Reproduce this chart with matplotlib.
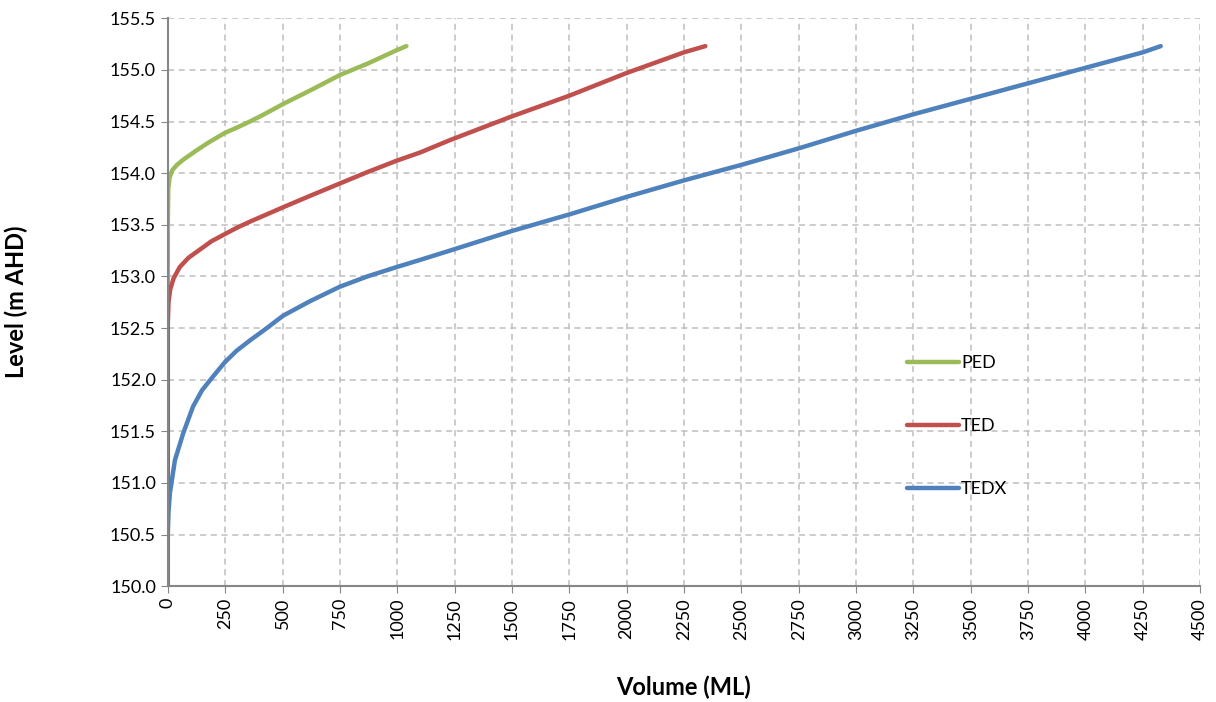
import matplotlib
matplotlib.use("Agg")
import matplotlib.pyplot as plt
from matplotlib.ticker import MultipleLocator, FormatStrFormatter

# Curvas nivel-volumen
ped_vol = [0, 0, 2, 8, 20, 40, 67, 125, 180, 249, 300, 358, 420, 503, 620, 750, 870, 997, 1040]
ped_lvl = [152.87, 153.5, 153.85, 153.96, 154.03, 154.08, 154.13, 154.22, 154.3, 154.39, 154.44,
           154.5, 154.57, 154.67, 154.8, 154.95, 155.06, 155.19, 155.23]

ted_vol = [0, 0, 3, 10, 25, 52, 90, 140, 190, 249, 300, 358, 420, 503, 620, 750, 870, 997, 1100,
           1230, 1500, 1750, 2000, 2250, 2343]
ted_lvl = [151.0, 152.55, 152.75, 152.87, 152.98, 153.09, 153.18, 153.26, 153.34, 153.41, 153.47,
           153.53, 153.59, 153.67, 153.78, 153.9, 154.01, 154.12, 154.2, 154.32, 154.55, 154.75,
           154.97, 155.17, 155.23]

tedx_vol = [0, 0, 3, 9, 31, 67, 110, 150, 197, 249, 300, 358, 420, 503, 620, 750, 870, 997, 1100,
            1230, 1500, 1750, 2000, 2250, 2500, 2750, 3000, 3250, 3500, 3750, 4000, 4250, 4328]
tedx_lvl = [150.0, 150.5, 150.72, 150.9, 151.22, 151.48, 151.74, 151.9, 152.03, 152.17, 152.28,
            152.38, 152.48, 152.62, 152.76, 152.9, 153.0, 153.09, 153.16, 153.25, 153.44, 153.6,
            153.77, 153.93, 154.08, 154.24, 154.41, 154.57, 154.72, 154.87, 155.02, 155.17, 155.23]

series = ["PED", "TED", "TEDX"]
colores = ["#9BBB59", "#C0504D", "#4F81BD"]

plt.rcParams['font.family'] = ['Lato', 'DejaVu Sans']

fig = plt.figure(figsize=(12.16, 7.02), dpi=100)
ax = fig.add_axes([0.138, 0.165, 0.849, 0.809])

for vol, lvl, nombre, color in zip([ped_vol, ted_vol, tedx_vol],
                                   [ped_lvl, ted_lvl, tedx_lvl], series, colores):
    ax.plot(vol, lvl, color=color, linewidth=3.2, label=nombre,
            solid_capstyle='round', solid_joinstyle='round')

ax.set_xlim(0, 4500)
ax.set_ylim(150.0, 155.5)
ax.xaxis.set_major_locator(MultipleLocator(250))
ax.yaxis.set_major_locator(MultipleLocator(0.5))
ax.yaxis.set_major_formatter(FormatStrFormatter('%.1f'))
ax.tick_params(axis='x', rotation=90, labelsize=13, color='#868686', length=5)
ax.tick_params(axis='y', labelsize=13, color='#868686', length=5)

ax.grid(True, linestyle='--', color='#BFBFBF', linewidth=1.1, dashes=(4, 3))
ax.set_axisbelow(True)
for lado in ['top', 'right']:
    ax.spines[lado].set_visible(False)
for lado in ['left', 'bottom']:
    ax.spines[lado].set_color('#868686')
    ax.spines[lado].set_linewidth(1.5)

ax.set_xlabel('Volume (ML)', fontsize=17, fontweight='bold')
ax.set_ylabel('Level (m AHD)', fontsize=17, fontweight='bold')
ax.xaxis.set_label_coords(0.5, -0.158)
ax.yaxis.set_label_coords(-0.135, 0.5)

ax.legend(loc='upper left', bbox_to_anchor=(0.70, 0.435), frameon=False, fontsize=13,
          handlelength=2.9, handletextpad=0.1, labelspacing=2.6)

fig.savefig("out.png", dpi=100)
